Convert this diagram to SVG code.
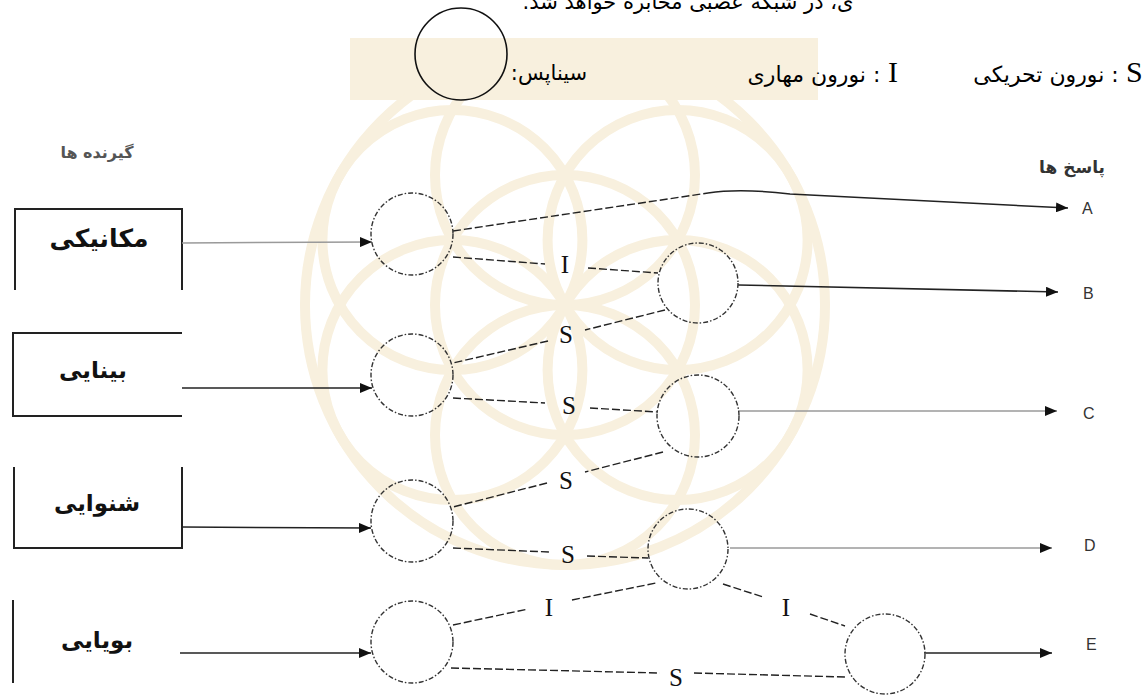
<svg xmlns="http://www.w3.org/2000/svg" width="1142" height="696" viewBox="0 0 1142 696">
<defs>
<style>
.wm{fill:none;stroke:#f8f0de;stroke-width:10}
.neuron{fill:none;stroke:#333;stroke-width:1.4;stroke-dasharray:5 2 1.5 2}
.syn{fill:none;stroke:#222;stroke-width:1.4;stroke-dasharray:8 3}
.dark{fill:none;stroke:#222;stroke-width:1.5}
.light{fill:none;stroke:#9a9a9a;stroke-width:1.5}
.box{fill:none;stroke:#222;stroke-width:2}
.fa{font-family:"DejaVu Sans","Noto Sans",sans-serif;fill:#000}
.rec{font-family:"DejaVu Sans","Noto Sans",sans-serif;font-weight:bold;font-size:23px;fill:#111}
.lab{font-family:"Liberation Serif","DejaVu Serif",serif;font-size:25px;fill:#111}
.big{font-family:"Liberation Serif","DejaVu Serif",serif;font-size:30px;fill:#000}
.out{font-family:"Liberation Sans","DejaVu Sans",sans-serif;font-size:16px;fill:#333}
</style>
<marker id="ah" viewBox="0 0 12 10" refX="12" refY="5" markerWidth="12" markerHeight="10" markerUnits="userSpaceOnUse" orient="auto">
<path d="M0,0 L12,5 L0,10 z" fill="#111"/>
</marker>
</defs>
<rect width="1142" height="696" fill="#fff"/>
<g id="watermark">
<rect x="350" y="38" width="468" height="62" fill="#f8f0de"/>
<circle class="wm" cx="565" cy="305" r="130"/>
<circle class="wm" cx="565" cy="175" r="130"/>
<circle class="wm" cx="565" cy="435" r="130"/>
<circle class="wm" cx="677.6" cy="240" r="130"/>
<circle class="wm" cx="452.4" cy="240" r="130"/>
<circle class="wm" cx="677.6" cy="370" r="130"/>
<circle class="wm" cx="452.4" cy="370" r="130"/>
<circle class="wm" cx="565" cy="305" r="260"/>
</g>
<g id="header">
<text class="fa" x="688" y="9" font-size="21" text-anchor="middle" direction="rtl">ی، در شبکه عصبی مخابره خواهد شد.</text>
</g>
<g id="legend">
<circle cx="461" cy="54" r="46" fill="none" stroke="#111" stroke-width="1.6"/>
<text class="fa" x="549" y="80" font-size="21" text-anchor="middle" direction="rtl">سیناپس:</text>
<text class="big" x="888" y="82">I</text>
<text class="fa" x="814" y="82" font-size="22" text-anchor="middle" direction="rtl">: نورون مهاری</text>
<text class="big" x="1126" y="82">S</text>
<text class="fa" x="1046" y="82" font-size="22" text-anchor="middle" direction="rtl">: نورون تحریکی</text>
</g>
<g id="receptors-title">
<text class="fa" x="97" y="158" font-size="16" font-weight="bold" text-anchor="middle" direction="rtl" style="fill:#555">گیرنده ها</text>
</g>
<g id="responses-title">
<text class="fa" x="1072" y="173" font-size="17" font-weight="bold" text-anchor="middle" direction="rtl" style="fill:#333">پاسخ ها</text>
</g>
<g id="receptor-mechanical">
<path class="box" d="M15,290 V209 H182 V290"/>
<text class="rec" x="99" y="247" text-anchor="middle" direction="rtl" style="font-size:25px">مکانیکی</text>
</g>
<g id="receptor-vision">
<path class="box" d="M182,333 H13 V416 H182"/>
<text class="rec" x="93" y="378" text-anchor="middle" direction="rtl">بینایی</text>
</g>
<g id="receptor-hearing">
<path class="box" d="M14,467 V548 H182 V467"/>
<text class="rec" x="97" y="511" text-anchor="middle" direction="rtl">شنوایی</text>
</g>
<g id="receptor-smell">
<line class="box" x1="13" y1="600" x2="13" y2="683"/>
<text class="rec" x="97" y="648" text-anchor="middle" direction="rtl">بویایی</text>
</g>
<g id="connectors">
<line class="light" x1="182" y1="243" x2="372" y2="242" marker-end="url(#ah)"/>
<line class="dark" x1="182" y1="388" x2="372" y2="388" marker-end="url(#ah)"/>
<line class="dark" x1="182" y1="527" x2="371" y2="528" marker-end="url(#ah)"/>
<line class="dark" x1="180" y1="653" x2="371" y2="653" marker-end="url(#ah)"/>
<line class="syn" x1="453" y1="231" x2="708" y2="193"/>
<path class="dark" d="M708,193 Q740,188 790,194 L1068,208" marker-end="url(#ah)"/>
<line class="dark" x1="738" y1="285" x2="1058" y2="292" marker-end="url(#ah)"/>
<line class="light" x1="738" y1="411" x2="1057" y2="411" marker-end="url(#ah)"/>
<line class="light" x1="730" y1="548" x2="1052" y2="548" marker-end="url(#ah)"/>
<line class="dark" x1="924" y1="653" x2="1052" y2="653" marker-end="url(#ah)"/>
<line class="syn" x1="453" y1="257" x2="545" y2="264"/>
<line class="syn" x1="588" y1="268" x2="658" y2="273"/>
<line class="syn" x1="665" y1="310" x2="585" y2="330"/>
<line class="syn" x1="548" y1="341" x2="453" y2="363"/>
<line class="syn" x1="453" y1="398" x2="545" y2="403"/>
<line class="syn" x1="590" y1="408" x2="658" y2="412"/>
<line class="syn" x1="663" y1="452" x2="585" y2="472"/>
<line class="syn" x1="547" y1="483" x2="453" y2="507"/>
<line class="syn" x1="453" y1="548" x2="549" y2="552"/>
<line class="syn" x1="587" y1="556" x2="648" y2="558"/>
<line class="syn" x1="453" y1="625" x2="528" y2="609"/>
<line class="syn" x1="572" y1="600" x2="656" y2="583"/>
<line class="syn" x1="723" y1="584" x2="763" y2="597"/>
<line class="syn" x1="810" y1="614" x2="845" y2="626"/>
<line class="syn" x1="451" y1="668" x2="660" y2="673"/>
<line class="syn" x1="694" y1="673" x2="845" y2="677"/>
</g>
<g id="synapse-labels">
<text class="lab" x="565" y="273" text-anchor="middle">I</text>
<text class="lab" x="566" y="343" text-anchor="middle">S</text>
<text class="lab" x="569" y="414" text-anchor="middle">S</text>
<text class="lab" x="566" y="489" text-anchor="middle">S</text>
<text class="lab" x="568" y="563" text-anchor="middle">S</text>
<text class="lab" x="549" y="616" text-anchor="middle">I</text>
<text class="lab" x="786" y="616" text-anchor="middle">I</text>
<text class="lab" x="676" y="686" text-anchor="middle">S</text>
</g>
<g id="neuron-1"><circle class="neuron" cx="412" cy="234" r="41"/></g>
<g id="neuron-2"><circle class="neuron" cx="412" cy="375" r="41"/></g>
<g id="neuron-3"><circle class="neuron" cx="412" cy="521" r="41"/></g>
<g id="neuron-4"><circle class="neuron" cx="412" cy="642" r="41"/></g>
<g id="neuron-5"><circle class="neuron" cx="698" cy="283" r="40"/></g>
<g id="neuron-6"><circle class="neuron" cx="698" cy="416" r="41"/></g>
<g id="neuron-7"><circle class="neuron" cx="688" cy="549" r="40"/></g>
<g id="neuron-8"><circle class="neuron" cx="885" cy="654" r="40"/></g>
<g id="response-labels">
<text class="out" x="1082" y="214">A</text>
<text class="out" x="1083" y="299">B</text>
<text class="out" x="1083" y="419">C</text>
<text class="out" x="1084" y="551">D</text>
<text class="out" x="1086" y="650">E</text>
</g>
</svg>
